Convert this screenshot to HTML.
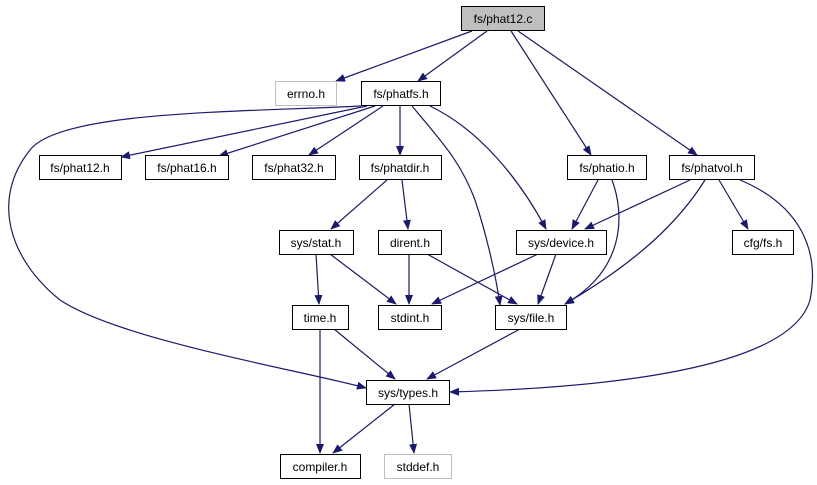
<!DOCTYPE html>
<html><head><style>
body{margin:0;background:#fff;}
svg{display:block;font-family:"Liberation Sans",Arial,sans-serif;font-size:12px;}
.n{fill:#fff;stroke:#000;stroke-width:1;}
.g{fill:#fff;stroke:#bfbfbf;stroke-width:1;}
.e{fill:none;stroke:#191970;stroke-width:1.2;}
</style></head><body>
<svg width="817" height="485" viewBox="0 0 817 485" xmlns="http://www.w3.org/2000/svg">
<defs><marker id="a" markerWidth="10" markerHeight="8" refX="9" refY="4" orient="auto" markerUnits="userSpaceOnUse"><path d="M0,0 L10,4 L0,8 z" fill="#191970"/></marker></defs>
<g class="e" marker-end="url(#a)">
<path d="M472,31 L336,81"/>
<path d="M487,31 L418,81"/>
<path d="M511,31 L591,155"/>
<path d="M518,31 L697,155"/>
<path d="M367,106 L121,157"/>
<path d="M375,106 L219,156"/>
<path d="M383,106 L309,155"/>
<path d="M400,106 L400,155"/>
<path d="M361,106 C250,112 60,110 30,150 C-10,200 10,260 60,300 C120,340 300,370 366,388"/>
<path d="M412,106 C440,140 460,160 475,200 C485,230 495,270 500,305"/>
<path d="M430,106 C480,130 520,180 546,229"/>
<path d="M387,180 L331,229"/>
<path d="M402,180 L408,229"/>
<path d="M598,180 L572,229"/>
<path d="M612,180 C625,215 625,270 565,304"/>
<path d="M690,180 L585,229"/>
<path d="M705,180 C680,220 640,260 565,304"/>
<path d="M719,180 L748,229"/>
<path d="M740,180 C800,205 820,250 810,300 C790,370 600,388 450,392"/>
<path d="M316,254 L319,304"/>
<path d="M330,254 L396,304"/>
<path d="M409,254 L409,304"/>
<path d="M427,254 L517,304"/>
<path d="M538,254 L432,304"/>
<path d="M556,254 L538,304"/>
<path d="M334,329 L395,379"/>
<path d="M520,329 L427,379"/>
<path d="M320,329 L320,453"/>
<path d="M395,404 L333,453"/>
<path d="M409,404 L414,453"/>
</g>
<rect x="461.5" y="6.5" width="83" height="24" fill="#bfbfbf" stroke="#000"/><text x="503" y="23" text-anchor="middle">fs/phat12.c</text>
<rect class="g" x="275.5" y="81.5" width="61" height="24"/><text x="306" y="98" text-anchor="middle">errno.h</text>
<rect class="n" x="361.5" y="81.5" width="79" height="24"/><text x="401" y="98" text-anchor="middle">fs/phatfs.h</text>
<rect class="n" x="39.5" y="155.5" width="82" height="24"/><text x="80" y="172" text-anchor="middle">fs/phat12.h</text>
<rect class="n" x="145.5" y="155.5" width="83" height="24"/><text x="187" y="172" text-anchor="middle">fs/phat16.h</text>
<rect class="n" x="252.5" y="155.5" width="83" height="24"/><text x="294" y="172" text-anchor="middle">fs/phat32.h</text>
<rect class="n" x="359.5" y="155.5" width="82" height="24"/><text x="400" y="172" text-anchor="middle">fs/phatdir.h</text>
<rect class="n" x="567.5" y="155.5" width="79" height="24"/><text x="607" y="172" text-anchor="middle">fs/phatio.h</text>
<rect class="n" x="669.5" y="155.5" width="85" height="24"/><text x="712" y="172" text-anchor="middle">fs/phatvol.h</text>
<rect class="n" x="279.5" y="230.5" width="74" height="24"/><text x="316" y="247" text-anchor="middle">sys/stat.h</text>
<rect class="n" x="378.5" y="230.5" width="63" height="24"/><text x="410" y="247" text-anchor="middle">dirent.h</text>
<rect class="n" x="516.5" y="230.5" width="90" height="24"/><text x="561" y="247" text-anchor="middle">sys/device.h</text>
<rect class="n" x="732.5" y="230.5" width="61" height="24"/><text x="763" y="247" text-anchor="middle">cfg/fs.h</text>
<rect class="n" x="292.5" y="305.5" width="56" height="24"/><text x="320" y="322" text-anchor="middle">time.h</text>
<rect class="n" x="378.5" y="305.5" width="63" height="24"/><text x="410" y="322" text-anchor="middle">stdint.h</text>
<rect class="n" x="495.5" y="305.5" width="71" height="24"/><text x="531" y="322" text-anchor="middle">sys/file.h</text>
<rect class="n" x="366.5" y="380.5" width="83" height="24"/><text x="408" y="397" text-anchor="middle">sys/types.h</text>
<rect class="n" x="280.5" y="454.5" width="80" height="24"/><text x="320" y="471" text-anchor="middle">compiler.h</text>
<rect class="g" x="384.5" y="454.5" width="67" height="24"/><text x="418" y="471" text-anchor="middle">stddef.h</text>
</svg>
</body></html>
